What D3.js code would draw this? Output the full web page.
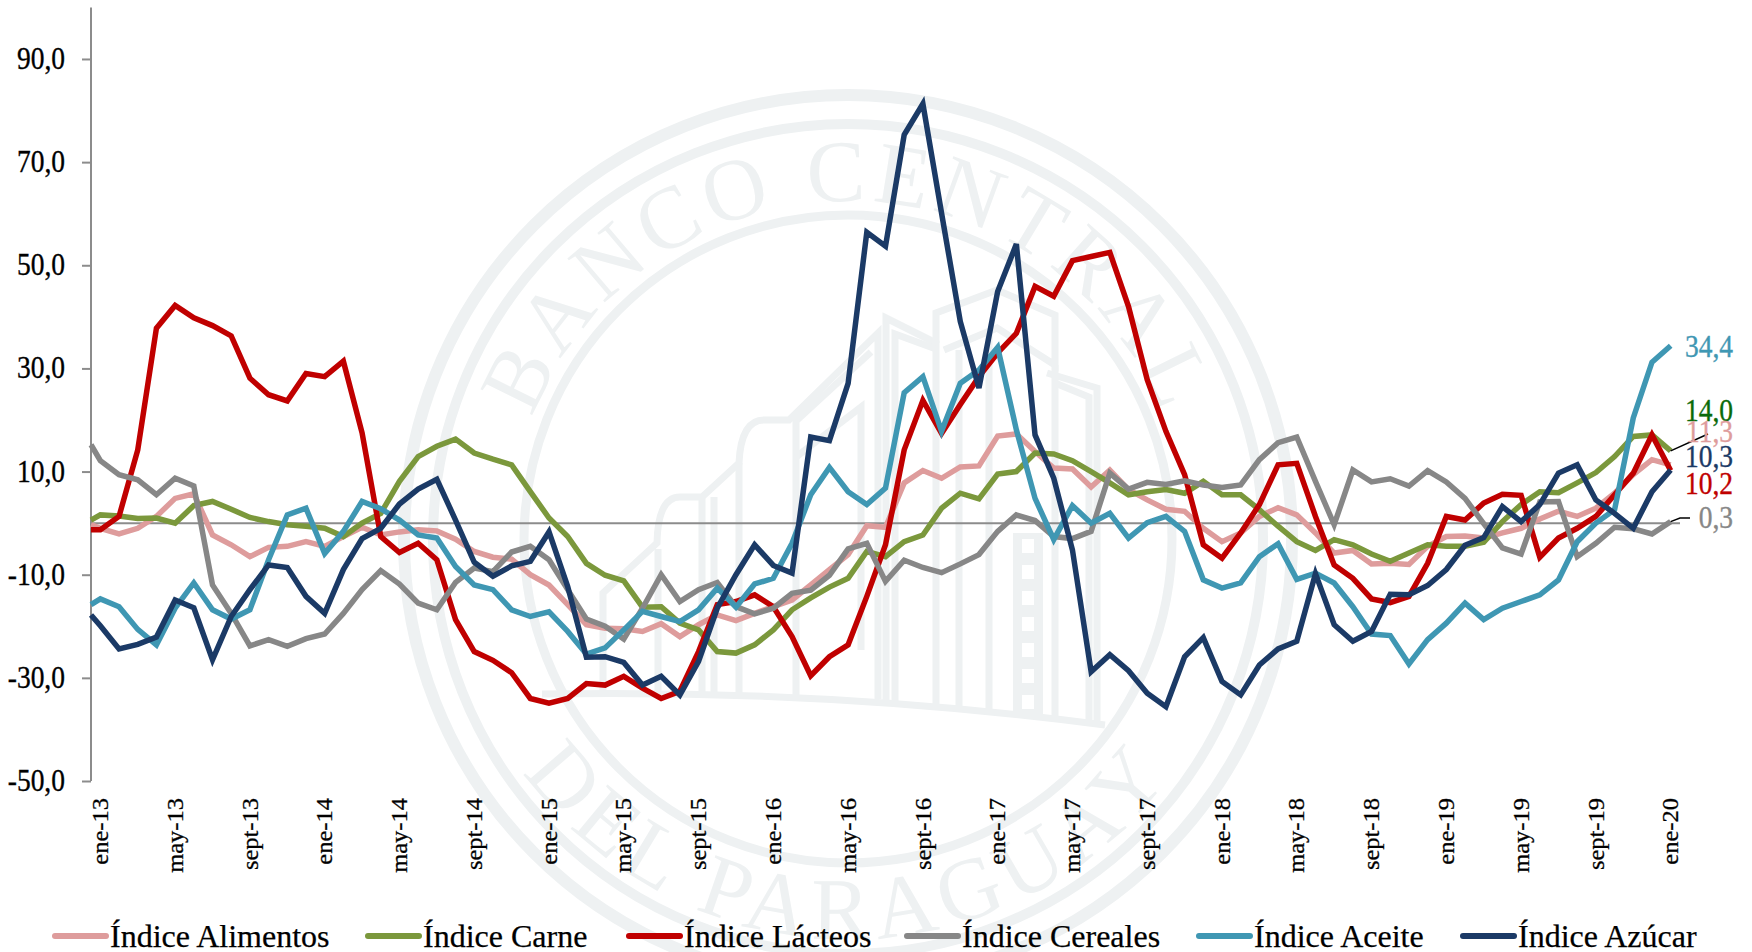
<!DOCTYPE html>
<html>
<head>
<meta charset="utf-8">
<script src="https://cdn.jsdelivr.net/npm/d3@7"></script>
<style>
  html, body { margin: 0; background: #fff; }
  text { font-family: "Liberation Serif", serif; }
</style>
</head>
<body>
<div id="chart"></div>
<script>
var width = 1752
var height = 952

var tickLabels = ["ene-13","may-13","sept-13","ene-14","may-14","sept-14","ene-15","may-15","sept-15","ene-16","may-16","sept-16","ene-17","may-17","sept-17","ene-18","may-18","sept-18","ene-19","may-19","sept-19","ene-20"]
var yTicks = [-50,-30,-10,10,30,50,70,90]

var names = ["Índice Alimentos","Índice Carne","Índice Lácteos","Índice Cereales","Índice Aceite","Índice Azúcar"]
var colors = ["#de9c9c","#7b983c","#c00000","#878787","#3f97b3","#1b3a66"]

// value where each line meets the vertical axis, half a month before ene-13
var edgeValues = [-0.3,0.6,-1.3,15.2,-15.8,-17.8]

var alimentos = [
  -1,-2.1,-1,1.3,4.8,5.7,-2.3,-4.2,-6.5,-4.7,
  -4.5,-3.6,-4.5,-2.6,-0.8,-2.3,-1.7,-1.3,-1.5,-3.1,
  -5.5,-6.6,-7,-10,-12,-15.8,-19.7,-20.4,-20.5,-21,
  -19.5,-22,-19.7,-17.8,-18.9,-17.5,-16.2,-14.9,-12,-9,
  -6.1,-0.5,-0.8,7.8,10.2,8.7,10.9,11.1,16.9,17.3,
  13.9,10.7,10.5,7,10.3,6.5,4.5,2.7,2.3,-1,
  -3.6,-1.9,1.3,3,1.6,-1.9,-5.8,-5.3,-7.9,-7.8,
  -8,-4.5,-2.6,-2.5,-2.9,-1.9,-1,0.8,2.3,1.3,
  2.9,5.8,9.4,12.3,11.3]

var carne = [
  1.6,1.4,0.9,1,0,3.4,4.2,2.7,1.1,0.3,
  -0.3,-0.6,-1,-2.6,0,1.9,8.1,12.9,14.9,16.3,
  13.6,12.4,11.3,6.1,1,-2.6,-7.8,-10.1,-11.2,-16.3,
  -16.2,-19.4,-20.7,-24.9,-25.2,-23.6,-20.7,-16.8,-14.5,-12.4,
  -10.7,-5.5,-6.5,-3.6,-2.3,2.9,5.8,4.7,9.5,10,
  13.6,13.4,12.1,10,7.8,5.5,6.1,6.5,5.8,8.1,
  5.5,5.5,2.6,-0.6,-3.6,-5.3,-3.2,-4.2,-6,-7.4,
  -5.8,-4.2,-4.5,-4.5,-3.7,0.3,3.6,6.1,5.9,7.8,
  9.8,12.9,16.8,17.1,14]

var lacteos = [
  -1.3,1.3,14.2,37.8,42.2,39.8,38.3,36.3,28.1,24.9,
  23.7,29,28.4,31.4,17.5,-2.6,-5.7,-3.9,-7.1,-18.7,
  -24.9,-26.6,-29,-34,-34.9,-34,-31.1,-31.4,-29.7,-32,
  -34,-32.6,-24.9,-15.8,-15.2,-13.9,-16.2,-22,-29.6,-25.9,
  -23.6,-14.2,-4.2,14.2,23.8,17.4,23,28.4,33,36.8,
  45.9,44,50.9,51.7,52.5,42,27.8,17.8,9.4,-4.2,
  -6.8,-1.9,3.6,11.3,11.6,1.3,-8.1,-10.7,-14.7,-15.4,
  -14.2,-7.8,1.3,0.6,3.9,5.6,5.4,-6.6,-2.9,-1,
  1.3,5.5,9.7,17.1,10.2]

var cereales = [
  12.1,9.4,8.4,5.5,8.7,7.2,-12,-17.5,-23.8,-22.6,
  -23.9,-22.4,-21.5,-17.5,-12.9,-9.2,-11.8,-15.5,-16.8,-11.5,
  -8.7,-9.4,-5.6,-4.5,-7.1,-12.9,-18.6,-20,-22.5,-16.5,
  -10,-15.2,-12.9,-11.5,-16.2,-17.6,-16.5,-13.6,-13,-10.1,
  -5,-3.9,-11.3,-7.2,-8.6,-9.6,-7.9,-6.1,-1.6,1.6,
  0.5,-2.6,-3,-1.6,9.7,6.6,7.9,7.5,8.2,7.4,
  6.9,7.4,12.3,15.6,16.7,8.1,-0.3,10.3,8,8.6,
  7.2,10.2,8,4.8,-0.1,-4.8,-6,4.1,4.2,-6.5,
  -3.9,-0.8,-1.1,-2.1,0.3]

var aceite = [
  -14.7,-16.2,-20.6,-23.6,-16.5,-11.6,-16.8,-18.6,-16.8,-7.1,
  1.6,2.9,-5.9,-1.6,4.2,2.8,0.6,-2.3,-2.9,-8.4,
  -12,-12.9,-16.8,-18.1,-17.2,-21,-25.4,-24.2,-20.7,-17.1,
  -18.1,-19.1,-16.8,-12.6,-16.3,-11.8,-10.7,-3.9,5.5,10.8,
  6.1,3.6,6.8,25.3,28.4,17.8,27.1,29.7,34.1,18.1,
  4.8,-3.2,3.4,0,1.9,-2.9,0.1,1.3,-1.6,-11,
  -12.6,-11.6,-6.5,-4,-10.9,-9.7,-11.6,-16.2,-21.5,-21.8,
  -27.3,-22.6,-19.4,-15.5,-18.7,-16.5,-15.2,-13.9,-11,-3.6,
  0,2.6,20.4,31.2,34.4]

var azucar = [
  -19.9,-24.4,-23.5,-22.1,-14.9,-16.4,-26.5,-18.1,-12.9,-8.1,
  -8.6,-14.2,-17.5,-9,-3,-1,3.7,6.6,8.5,0.6,
  -7.6,-10.3,-8.3,-7.4,-1.7,-12.3,-26,-25.9,-27,-31.4,
  -29.7,-33.3,-26.8,-16.5,-10,-4.2,-8.2,-9.7,16.7,16,
  27.1,56.4,53.7,75.3,81.3,60.1,39.1,26.2,44.9,54.1,
  17.1,8.7,-5.2,-28.8,-25.5,-28.6,-33,-35.6,-25.9,-22.2,
  -30.7,-33.3,-27.5,-24.4,-22.9,-9.8,-19.7,-22.9,-21,-13.8,
  -13.9,-12.1,-9,-4.3,-2.8,3.2,0.3,3.6,9.7,11.3,
  4.5,1.9,-1,6.1,10.3]

var allSeries = [alimentos, carne, lacteos, cereales, aceite, azucar]

// end labels, with the y each one sits at and its own colour
var endLabels = ["34,4","14,0","11,3","10,3","10,2","0,3"]
var endLabelY = [348,412,433,458,485,519]
var endLabelColors = ["#3f97b3","#0a6a0a","#de9c9c","#1b3a66","#c00000","#878787"]

var x = d3.scaleLinear().domain([-0.5, 84.5]).range([91, 1680])
var y = d3.scaleLinear().domain([-50, 100]).range([781, 7.4])

var svg = d3.select("#chart").append("svg")
    .attr("width", width)
    .attr("height", height)
    .style("display", "block")

drawSeal()

// zero line
svg.append("line")
    .attr("x1", x.range()[0]).attr("x2", x.range()[1])
    .attr("y1", y(0)).attr("y2", y(0))
    .attr("stroke", "#8c8c8c").attr("stroke-width", 2)

var yAxis = svg.append("g")
    .attr("transform", "translate(" + x.range()[0] + ",0)")
    .call(d3.axisLeft(y).tickValues(yTicks).tickSize(9).tickPadding(17)
      .tickFormat(function(d) { return d.toFixed(1).replace(".", ",") }))

yAxis.select(".domain").attr("stroke", "#8c8c8c").attr("stroke-width", 2).attr("d", "M0," + y.range()[0] + "V" + y.range()[1])
yAxis.selectAll(".tick line").attr("stroke", "#8c8c8c").attr("stroke-width", 2)
yAxis.selectAll("text")
    .attr("dy", "0.3em")
    .attr("transform", "scale(1,1.15)")
    .style("font-family", "'Liberation Serif', serif")
    .style("font-size", "27.5px")
    .attr("fill", "#000")
    .attr("stroke", "#000")
    .attr("stroke-width", 0.3)

var xAxis = svg.append("g")
    .attr("transform", "translate(2,798)")
    .call(d3.axisBottom(x).tickValues(tickLabels.map(function(d, i) { return i * 4 })).tickSize(0)
      .tickFormat(function(d) { return tickLabels[d / 4] }))

xAxis.select(".domain").remove()
xAxis.selectAll("text")
    .attr("text-anchor", "end")
    .attr("dy", null)
    .attr("y", 0)
    .attr("dominant-baseline", "middle")
    .attr("transform", "rotate(-90) scale(1,.92)")
    .style("font-family", "'Liberation Serif', serif")
    .style("font-size", "24.5px")
    .attr("fill", "#000")
    .attr("stroke", "#000")
    .attr("stroke-width", 0.3)

var line = d3.line()
    .x(function(d) { return x(d[0]) })
    .y(function(d) { return y(d[1]) })

svg.append("g").selectAll("path")
    .data(allSeries)
    .join("path")
    .attr("fill", "none")
    .attr("stroke-width", 5.5)
    .attr("stroke-linejoin", "miter")
    .attr("stroke", function(d, i) { return colors[i] })
    .attr("d", function(d, i) {
      return line([[-0.5, edgeValues[i]]].concat(d.map(function(v, j) { return [j, v] })))
    })

// leader lines for Carne and Cereales
svg.append("path")
    .attr("fill", "none").attr("stroke", "#000").attr("stroke-width", 1.5)
    .attr("d", "M" + x(84) + "," + y(14) + "L1708,434")
svg.append("path")
    .attr("fill", "none").attr("stroke", "#000").attr("stroke-width", 1.5)
    .attr("d", "M" + x(84) + "," + y(0.3) + "L1680,518H1690")

svg.append("g").selectAll("text")
    .data(endLabels)
    .join("text")
    .attr("transform", function(d, i) { return "translate(1733," + endLabelY[i] + ") scale(1,1.15)" })
    .attr("dy", "0.3em")
    .attr("text-anchor", "end")
    .attr("font-size", 27.5)
    .attr("fill", function(d, i) { return endLabelColors[i] })
    .attr("stroke", function(d, i) { return endLabelColors[i] })
    .attr("stroke-width", 0.3)
    .text(function(d) { return d })

// legend
var legendX = [52, 365, 626, 904, 1196, 1460]
var legend = svg.append("g").selectAll("g")
    .data(names)
    .join("g")
    .attr("transform", function(d, i) { return "translate(" + legendX[i] + ",936)" })

legend.append("line")
    .attr("x1", 3).attr("x2", 54)
    .attr("stroke", function(d, i) { return colors[i] })
    .attr("stroke-width", 6)
    .attr("stroke-linecap", "round")

legend.append("text")
    .attr("x", 58)
    .attr("dy", "0.33em")
    .attr("font-size", 32)
    .attr("fill", "#000")
    .attr("stroke", "#000")
    .attr("stroke-width", 0.25)
    .text(function(d) { return d })

function drawSeal() {

  var seal = svg.append("g").attr("transform", "translate(848,539)")
  var tint = "#eef1f2"

  seal.selectAll("circle")
      .data([[444, 12], [415, 10], [324, 9]])
      .join("circle")
      .attr("r", function(d) { return d[0] })
      .attr("fill", "none")
      .attr("stroke", tint)
      .attr("stroke-width", function(d) { return d[1] })

  var arcTop = d3.path()
  arcTop.arc(0, 0, 338, Math.PI * 1.02, Math.PI * 1.98, false)
  var arcBottom = d3.path()
  arcBottom.arc(0, 0, 400, Math.PI * 0.94, Math.PI * 0.06, true)

  seal.append("path").attr("id", "sealTop").attr("d", arcTop.toString()).attr("fill", "none")
  seal.append("path").attr("id", "sealBottom").attr("d", arcBottom.toString()).attr("fill", "none")

  seal.append("text")
      .attr("font-size", 88)
      .attr("letter-spacing", 6)
      .attr("fill", tint)
      .append("textPath")
      .attr("href", "#sealTop")
      .attr("startOffset", "50%")
      .attr("text-anchor", "middle")
      .text("BANCO CENTRAL")

  seal.append("text")
      .attr("font-size", 88)
      .attr("letter-spacing", 8)
      .attr("fill", tint)
      .append("textPath")
      .attr("href", "#sealBottom")
      .attr("startOffset", "50%")
      .attr("text-anchor", "middle")
      .text("DEL PARAGUAY")

  // building outline, rough
  var building = [
    "M-306,155 Q-20,150 257,186",
    "M-245,154 V54 L-191,4 Q-190,-42 -168,-42 H-146 L-109,-76 Q-107,-119 -84,-119 H-59 L30,-206 V160",
    "M-190,154 V10",
    "M-146,154 V-42",
    "M-134,154 V-42",
    "M-109,154 V-76",
    "M-52,158 V-118 L23,-187",
    "M-52,-82 L13,-132 V111",
    "M38,162 V-221 L88,-196 V170",
    "M47,162 V-205 L88,-190",
    "M88,-196 V-226 L149,-249 L207,-224 V-174 L149,-211 L96,-189",
    "M111,170 V-189",
    "M141,175 V-205",
    "M199,-166 L249,-151 V186",
    "M207,-156 L241,-142 V184",
    "M207,-174 V180"
  ]

  seal.selectAll("path.building")
      .data(building)
      .join("path")
      .attr("class", "building")
      .attr("d", function(d) { return d })
      .attr("fill", "none")
      .attr("stroke", tint)
      .attr("stroke-width", 7)

  seal.append("rect")
      .attr("x", 165).attr("y", -6)
      .attr("width", 30).attr("height", 184)
      .attr("fill", tint)

  // hatching in the thick column
  seal.append("line")
      .attr("x1", 180).attr("x2", 180)
      .attr("y1", 0).attr("y2", 176)
      .attr("stroke", "#fff")
      .attr("stroke-width", 12)
      .attr("stroke-dasharray", "14,12")
}
</script>
</body>
</html>
